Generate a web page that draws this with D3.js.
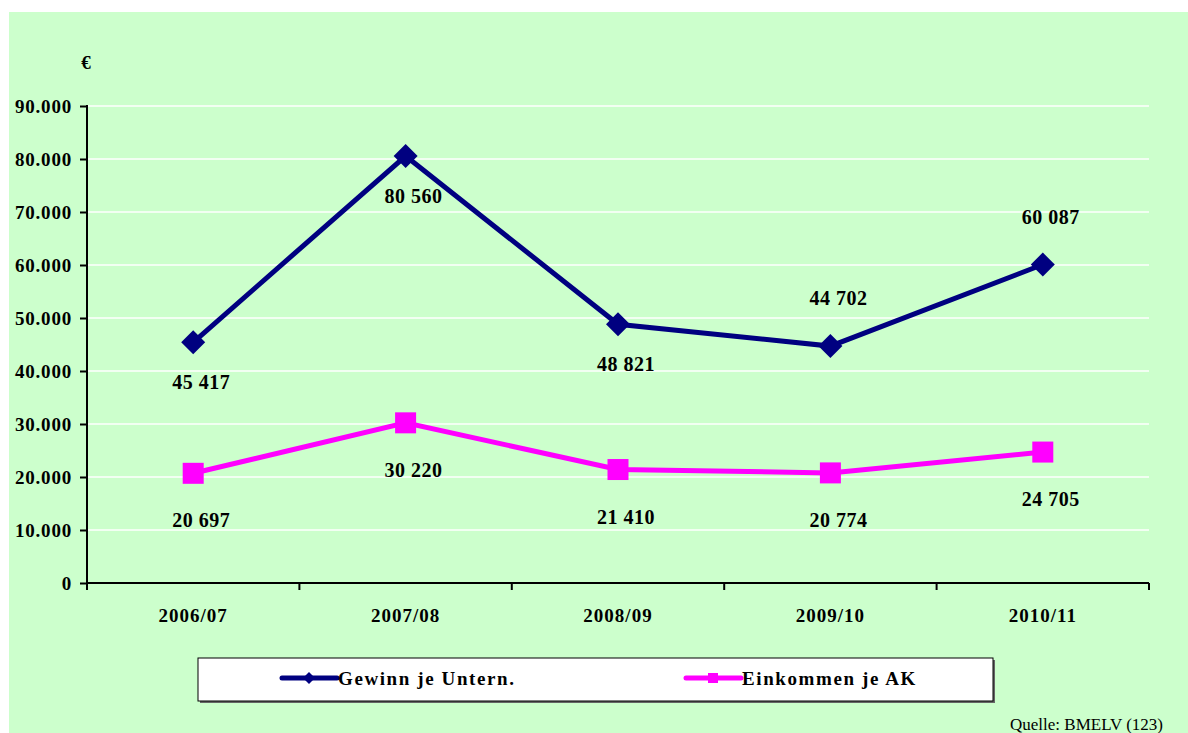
<!DOCTYPE html>
<html>
<head>
<meta charset="utf-8">
<script src="https://cdn.jsdelivr.net/npm/d3@7"></script>
<style>
  html, body { margin: 0; padding: 0; background: #fff; }
  svg { display: block; }
  text { font-family: "Liberation Serif", "Times New Roman", serif; }
</style>
</head>
<body>
<div id="vis"></div>
<script>
// data
const years = ["2006/07", "2007/08", "2008/09", "2009/10", "2010/11"];
const gewinn = [45417, 80560, 48821, 44702, 60087];
const einkommen = [20697, 30220, 21410, 20774, 24705];
const yTicks = [0, 10000, 20000, 30000, 40000, 50000, 60000, 70000, 80000, 90000];
// which Gewinn labels sit above the marker
const gewinnAbove = [false, false, false, true, true];

const W = 1188, H = 733;
const svg = d3.select("#vis").append("svg")
  .attr("width", W).attr("height", H);

// green chart area
svg.append("rect").attr("x", 9).attr("y", 12)
  .attr("width", W - 9).attr("height", H - 12)
  .attr("fill", "#ccffcc");

const x = d3.scaleBand().domain(years).range([87, 1149]);
const y = d3.scaleLinear().domain([0, 90000]).range([583, 106]);
const cx = d => x(d) + x.bandwidth() / 2;
const serif = "'Liberation Serif', 'Times New Roman', serif";

// gridlines
svg.append("g").selectAll("line")
  .data(yTicks.filter(d => d > 0))
  .join("line")
  .attr("x1", 87).attr("x2", 1149)
  .attr("y1", d => y(d)).attr("y2", d => y(d))
  .attr("stroke", "#fff").attr("stroke-width", 1.5);

// y axis
const fmtTick = d => d === 0 ? "0" : d3.format(",")(d).replace(/,/g, ".");
const yAxis = svg.append("g")
  .attr("transform", "translate(87,0)")
  .call(d3.axisLeft(y).tickValues(yTicks).tickFormat(fmtTick).tickSize(7).tickPadding(8));
yAxis.select(".domain").attr("stroke", "#000").attr("stroke-width", 2)
  .attr("d", `M0,${y(90000) - 1}V${y(0)}`);
yAxis.selectAll(".tick line").attr("stroke", "#000").attr("stroke-width", 2);
yAxis.selectAll(".tick text")
  .attr("fill", "#000").style("font-size", "19px").style("font-weight", "bold")
  .style("letter-spacing", "0.8px")
  .style("font-family", serif);

// x axis
const xAxis = svg.append("g")
  .attr("transform", `translate(0,${y(0)})`)
  .call(d3.axisBottom(x).tickSize(0).tickPadding(26));
xAxis.select(".domain").attr("stroke", "#000").attr("stroke-width", 2)
  .attr("d", `M87,0H1149`);
xAxis.selectAll(".tick text")
  .attr("fill", "#000").style("font-size", "19px").style("font-weight", "bold")
  .style("letter-spacing", "1px")
  .style("font-family", serif);
xAxis.selectAll(".bound")
  .data(years.map(d => x(d)).concat([x(years[years.length - 1]) + x.bandwidth()]))
  .join("line").attr("class", "bound")
  .attr("x1", d => d).attr("x2", d => d)
  .attr("y1", 0).attr("y2", 7)
  .attr("stroke", "#000").attr("stroke-width", 2);

// euro unit
svg.append("text").attr("x", 86).attr("y", 69)
  .attr("text-anchor", "middle")
  .style("font-size", "19px").style("font-weight", "bold").text("€");

const line = d3.line().x((d, i) => cx(years[i])).y(d => y(d));

// Einkommen je AK
svg.append("path").datum(einkommen)
  .attr("d", line).attr("fill", "none")
  .attr("stroke", "#ff00ff").attr("stroke-width", 5);
svg.append("g").selectAll("rect")
  .data(einkommen).join("rect")
  .attr("x", (d, i) => cx(years[i]) - 10.5)
  .attr("y", d => y(d) - 10.5)
  .attr("width", 21).attr("height", 21)
  .attr("fill", "#ff00ff");

// Gewinn je Unternehmen
svg.append("path").datum(gewinn)
  .attr("d", line).attr("fill", "none")
  .attr("stroke", "#000080").attr("stroke-width", 5);
const diamond = r => `M0,${-r}L${r},0L0,${r}L${-r},0Z`;
svg.append("g").selectAll("path")
  .data(gewinn).join("path")
  .attr("transform", (d, i) => `translate(${cx(years[i])},${y(d)})`)
  .attr("d", diamond(12))
  .attr("fill", "#000080");

// value labels
const fmtVal = v => d3.format(",")(v).replace(/,/g, " ");
const lbl = svg.append("g")
  .attr("text-anchor", "middle")
  .style("font-size", "20px").style("font-weight", "bold")
  .style("letter-spacing", "0.5px");
lbl.selectAll(".g").data(gewinn).join("text").attr("class", "g")
  .attr("x", (d, i) => cx(years[i]) + 8)
  .attr("y", (d, i) => y(d) + (gewinnAbove[i] ? -41 : 47))
  .text(fmtVal);
lbl.selectAll(".e").data(einkommen).join("text").attr("class", "e")
  .attr("x", (d, i) => cx(years[i]) + 8)
  .attr("y", d => y(d) + 54)
  .text(fmtVal);

// legend
const lg = svg.append("g");
lg.append("rect").attr("x", 200).attr("y", 660).attr("width", 795).attr("height", 43)
  .attr("fill", "#666");
lg.append("rect").attr("x", 198).attr("y", 658).attr("width", 795).attr("height", 43)
  .attr("fill", "#fff").attr("stroke", "#000").attr("stroke-width", 1);
const items = [
  { name: "Gewinn je Untern.", color: "#000080", x0: 282, marker: "d" },
  { name: "Einkommen je AK", color: "#ff00ff", x0: 686, marker: "s" }
];
items.forEach(it => {
  lg.append("line").attr("x1", it.x0).attr("x2", it.x0 + 55)
    .attr("y1", 678).attr("y2", 678)
    .attr("stroke", it.color).attr("stroke-width", 5).attr("stroke-linecap", "round");
  if (it.marker === "d") {
    lg.append("path").attr("transform", `translate(${it.x0 + 27},678)`)
      .attr("d", diamond(6)).attr("fill", it.color);
  } else {
    lg.append("rect").attr("x", it.x0 + 22).attr("y", 673)
      .attr("width", 10).attr("height", 10).attr("fill", it.color);
  }
  lg.append("text").attr("x", it.x0 + 56).attr("y", 685)
    .style("font-size", "19px").style("font-weight", "bold")
    .style("letter-spacing", "1.6px")
    .text(it.name);
});

// source
svg.append("text").attr("x", 1163).attr("y", 730)
  .attr("text-anchor", "end")
  .style("font-size", "17px")
  .text("Quelle: BMELV (123)");
</script>
</body>
</html>
